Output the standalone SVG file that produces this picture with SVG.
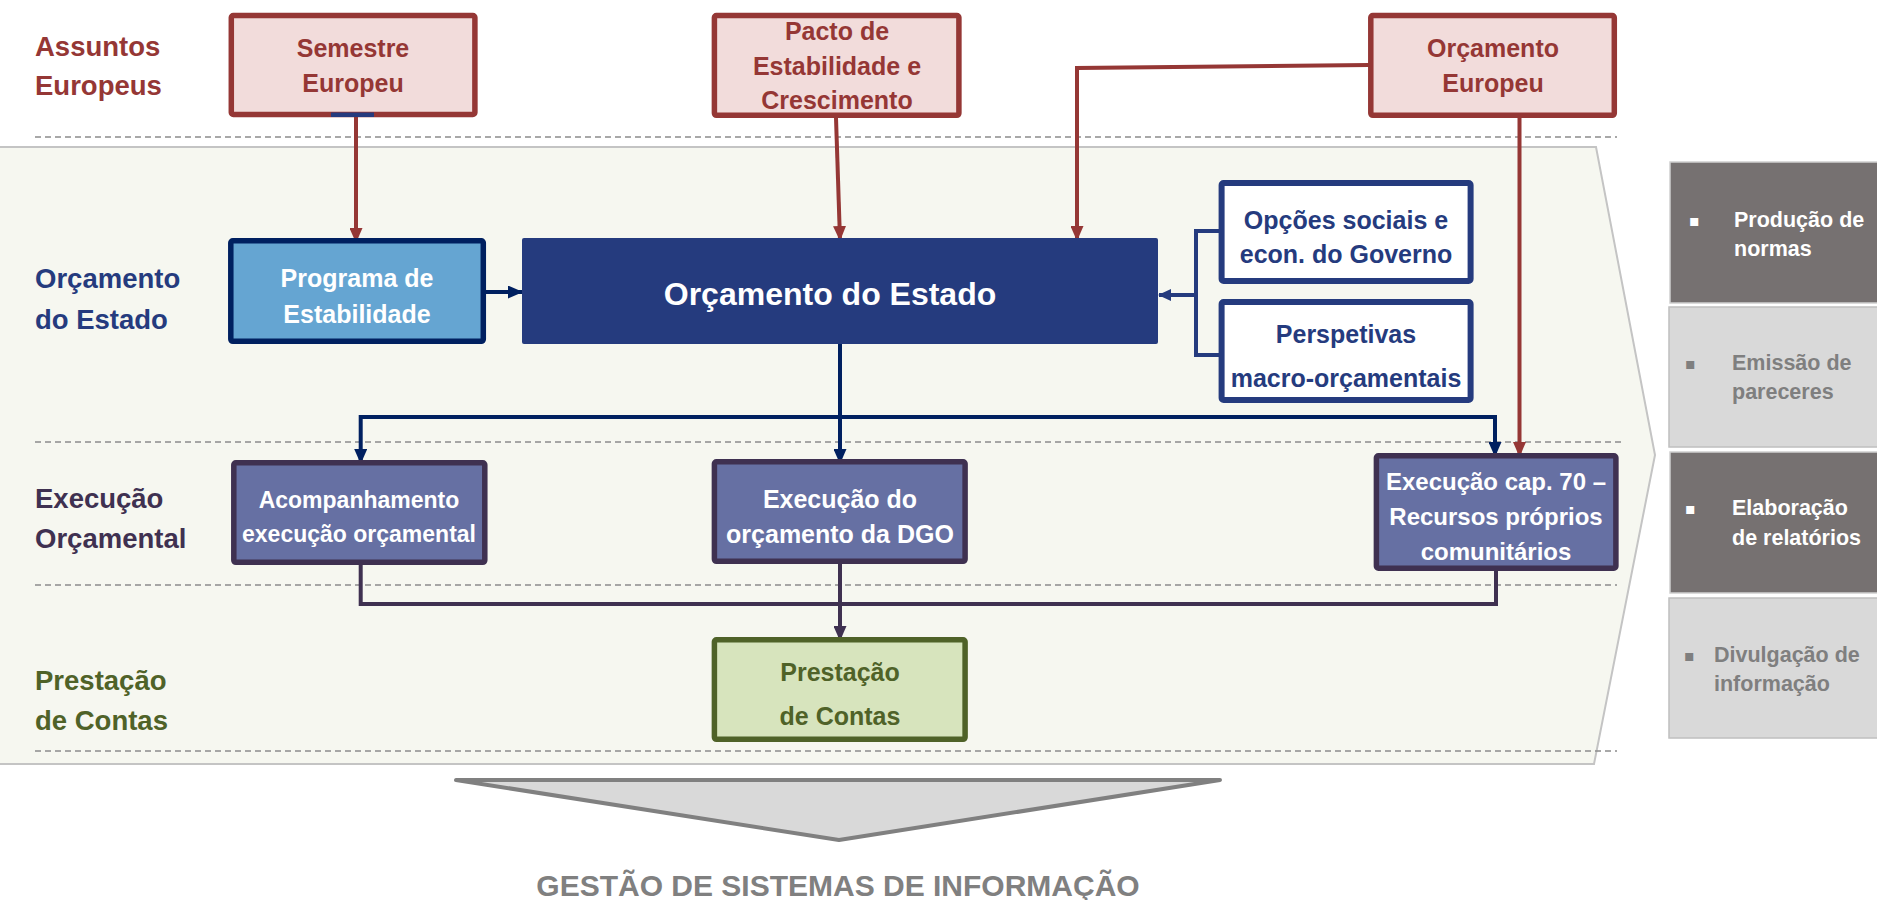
<svg xmlns="http://www.w3.org/2000/svg" width="1877" height="900" viewBox="0 0 1877 900">
<style>
text{font-family:"Liberation Sans",Arial,sans-serif;font-weight:bold}
.lbl{font-size:27.5px}
.bt{font-size:25px;text-anchor:middle}
.red{fill:#953735}
.navy{fill:#253B7E}
.purp{fill:#3F3151}
.grn{fill:#4F6228}
.wht{fill:#FFFFFF}
.boxR{fill:#F2DCDB;stroke:#953735;stroke-width:5.5}
.boxB{fill:#65A5D2;stroke:#002060;stroke-width:5.5}
.boxW{fill:#FFFFFF;stroke:#253B7E;stroke-width:6}
.boxP{fill:#6670A3;stroke:#3F3151;stroke-width:5.5}
.boxG{fill:#D7E4BD;stroke:#4F6228;stroke-width:5.5}
.dash{stroke:#8C8C8C;stroke-width:1.6;stroke-dasharray:6 4;fill:none}
.cR{stroke:#953735;stroke-width:4;fill:none}
.cN{stroke:#002060;stroke-width:4;fill:none}
.cO{stroke:#253B7E;stroke-width:4;fill:none}
.cP{stroke:#3F3151;stroke-width:4;fill:none}
.pd{fill:#767171;stroke:#D0D0D0;stroke-width:1.5}
.pl{fill:#D9D9D9;stroke:#BFBFBF;stroke-width:1.5}
.pt{font-size:21.5px}
.bul{font-family:"DejaVu Sans",sans-serif;font-weight:normal;font-size:16px}
</style>
<defs>
<marker id="aR" markerUnits="userSpaceOnUse" markerWidth="15" markerHeight="13" refX="14" refY="6.5" orient="auto"><path d="M0,0 L15,6.5 L0,13 z" fill="#953735"/></marker>
<marker id="aN" markerUnits="userSpaceOnUse" markerWidth="15" markerHeight="13" refX="14" refY="6.5" orient="auto"><path d="M0,0 L15,6.5 L0,13 z" fill="#002060"/></marker>
<marker id="aO" markerUnits="userSpaceOnUse" markerWidth="13" markerHeight="12" refX="12" refY="6" orient="auto"><path d="M0,0 L13,6 L0,12 z" fill="#253B7E"/></marker>
<marker id="aP" markerUnits="userSpaceOnUse" markerWidth="15" markerHeight="13" refX="14" refY="6.5" orient="auto"><path d="M0,0 L15,6.5 L0,13 z" fill="#3F3151"/></marker>
</defs>
<rect width="1877" height="900" fill="#FFFFFF"/>
<g id="band">
<polygon points="-3,147 1596,147 1655,455 1594,764 -3,764" fill="#F6F7F0" stroke="#C4C4C4" stroke-width="2"/>
</g>
<g id="separators">
<line class="dash" x1="35" y1="137" x2="1617" y2="137"/>
<line class="dash" x1="35" y1="442" x2="1623" y2="442"/>
<line class="dash" x1="35" y1="585" x2="1617" y2="585"/>
<line class="dash" x1="35" y1="751" x2="1617" y2="751"/>
</g>
<g id="row-labels">
<text class="lbl red" x="35" y="56">Assuntos</text>
<text class="lbl red" x="35" y="95">Europeus</text>
<text class="lbl navy" x="35" y="288">Orçamento</text>
<text class="lbl navy" x="35" y="329">do Estado</text>
<text class="lbl purp" x="35" y="508">Execução</text>
<text class="lbl purp" x="35" y="548">Orçamental</text>
<text class="lbl grn" x="35" y="690">Prestação</text>
<text class="lbl grn" x="35" y="730">de Contas</text>
</g>
<g id="connectors">
<line class="cR" x1="356" y1="117" x2="356" y2="242" marker-end="url(#aR)"/>
<line class="cR" x1="836" y1="118" x2="840" y2="240" marker-end="url(#aR)"/>
<polyline class="cR" points="1369,65 1077,68 1077,240" marker-end="url(#aR)"/>
<line class="cR" x1="1519.5" y1="118" x2="1519.5" y2="456" marker-end="url(#aR)"/>
<line class="cN" x1="486" y1="292" x2="522" y2="292" marker-end="url(#aN)"/>
<polyline class="cO" points="1220,231 1196,231 1196,355 1220,355"/>
<line class="cO" x1="1196" y1="295" x2="1159" y2="295" marker-end="url(#aO)"/>
<line class="cN" x1="840" y1="344" x2="840" y2="463" marker-end="url(#aN)"/>
<polyline class="cN" points="840,417 360.7,417 360.7,463" marker-end="url(#aN)"/>
<polyline class="cN" points="840,417 1495,417 1495,456" marker-end="url(#aN)"/>
<polyline class="cP" points="360.7,565 360.7,604 1496,604 1496,571"/>
<line class="cP" x1="840" y1="564" x2="840" y2="640" marker-end="url(#aP)"/>
</g>
<g id="semestre-europeu">
<rect class="boxR" x="231.3" y="15.5" width="243.6" height="99" rx="2"/>
<rect x="331" y="112.5" width="43" height="4.5" fill="#253B7E"/>
<text class="bt red" x="353" y="57">Semestre</text>
<text class="bt red" x="353" y="92">Europeu</text>
</g>
<g id="pacto-estabilidade">
<rect class="boxR" x="714.4" y="15.5" width="244.5" height="99.8" rx="2"/>
<text class="bt red" x="837" y="40">Pacto de</text>
<text class="bt red" x="837" y="75">Estabilidade e</text>
<text class="bt red" x="837" y="109">Crescimento</text>
</g>
<g id="orcamento-europeu">
<rect class="boxR" x="1370.8" y="15.5" width="243.5" height="99.8" rx="2"/>
<text class="bt red" x="1493" y="57">Orçamento</text>
<text class="bt red" x="1493" y="92">Europeu</text>
</g>
<g id="programa-estabilidade">
<rect class="boxB" x="230.8" y="240.8" width="252.5" height="100.5" rx="2"/>
<text class="bt wht" x="357" y="287">Programa de</text>
<text class="bt wht" x="357" y="323">Estabilidade</text>
</g>
<g id="orcamento-estado">
<rect x="522" y="238" width="636" height="106" rx="2" fill="#253B7E"/>
<text class="wht" x="830" y="305" style="font-size:32px" text-anchor="middle">Orçamento do Estado</text>
</g>
<g id="opcoes-sociais">
<rect class="boxW" x="1221.6" y="183" width="249" height="98" rx="2"/>
<text class="bt navy" x="1346" y="229">Opções sociais e</text>
<text class="bt navy" x="1346" y="263">econ. do Governo</text>
</g>
<g id="perspetivas">
<rect class="boxW" x="1221.6" y="302" width="249" height="98" rx="2"/>
<text class="bt navy" x="1346" y="343">Perspetivas</text>
<text class="bt navy" x="1346" y="387">macro-orçamentais</text>
</g>
<g id="acompanhamento">
<rect class="boxP" x="233.8" y="462.8" width="251" height="99.5" rx="2"/>
<text class="bt wht" x="359" y="508" style="font-size:23px">Acompanhamento</text>
<text class="bt wht" x="359" y="542" style="font-size:23px">execução orçamental</text>
</g>
<g id="execucao-dgo">
<rect class="boxP" x="714.4" y="461.8" width="250.7" height="99.5" rx="2"/>
<text class="bt wht" x="840" y="508">Execução do</text>
<text class="bt wht" x="840" y="543">orçamento da DGO</text>
</g>
<g id="execucao-cap70">
<rect class="boxP" x="1376.4" y="455.8" width="239.5" height="112.4" rx="2"/>
<text class="bt wht" x="1496" y="490" style="font-size:24px">Execução cap. 70 –</text>
<text class="bt wht" x="1496" y="525" style="font-size:24px">Recursos próprios</text>
<text class="bt wht" x="1496" y="560" style="font-size:24px">comunitários</text>
</g>
<g id="prestacao-contas">
<rect class="boxG" x="714.4" y="639.8" width="250.7" height="99.5" rx="2"/>
<text class="bt grn" x="840" y="681">Prestação</text>
<text class="bt grn" x="840" y="725">de Contas</text>
</g>
<g id="producao-normas">
<rect class="pd" x="1670" y="162" width="210" height="141"/>
<text class="bul wht" x="1689" y="226">▪</text>
<text class="pt wht" x="1734" y="227">Produção de</text>
<text class="pt wht" x="1734" y="256">normas</text>
</g>
<g id="emissao-pareceres">
<rect class="pl" x="1669" y="307" width="211" height="140"/>
<text class="bul" fill="#7F7F7F" x="1685" y="369">▪</text>
<text class="pt" fill="#7F7F7F" x="1732" y="370">Emissão de</text>
<text class="pt" fill="#7F7F7F" x="1732" y="399">pareceres</text>
</g>
<g id="elaboracao-relatorios">
<rect class="pd" x="1670" y="452" width="210" height="141"/>
<text class="bul wht" x="1685" y="514">▪</text>
<text class="pt wht" x="1732" y="515">Elaboração</text>
<text class="pt wht" x="1732" y="545">de relatórios</text>
</g>
<g id="divulgacao-informacao">
<rect class="pl" x="1669" y="598" width="211" height="140"/>
<text class="bul" fill="#7F7F7F" x="1684" y="661">▪</text>
<text class="pt" fill="#7F7F7F" x="1714" y="662">Divulgação de</text>
<text class="pt" fill="#7F7F7F" x="1714" y="691">informação</text>
</g>
<g id="gestao-sistemas">
<polygon points="456,780 1220,780 839,840" fill="#D9D9D9" stroke="#808080" stroke-width="4" stroke-linejoin="round"/>
<text x="838" y="896" style="font-size:30px" text-anchor="middle" fill="#808080">GESTÃO DE SISTEMAS DE INFORMAÇÃO</text>
</g>
</svg>
